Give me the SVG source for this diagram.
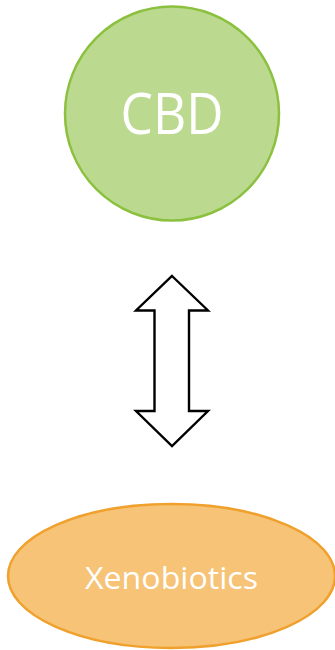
<svg xmlns="http://www.w3.org/2000/svg" width="335" height="650" viewBox="0 0 335 650">
<style>
.lbl{fill:#ffffff;font-family:"Open Sans","Liberation Sans",sans-serif;text-anchor:middle}
</style>
<rect width="335" height="650" fill="#ffffff"/>
<g id="cbd">
<circle cx="172" cy="113.5" r="107" fill="#BBDA90" stroke="#8CC03F" stroke-width="2.5"/>
<text class="lbl" x="172" y="134" font-size="56" textLength="103" lengthAdjust="spacingAndGlyphs">CBD</text>
</g>
<g id="connectors">
<polygon points="172,276 208,310.5 189,310.5 189,411 208,411 172,446 136,411 154.5,411 154.5,310.5 136,310.5" fill="#ffffff" stroke="#000000" stroke-width="2.4" stroke-linejoin="miter"/>
</g>
<g id="xenobiotics">
<ellipse cx="171.5" cy="576" rx="163.5" ry="72" fill="#F6C377" stroke="#F0A02C" stroke-width="2.5"/>
<text class="lbl" x="171.5" y="588.5" font-size="31" textLength="173" lengthAdjust="spacingAndGlyphs">Xenobiotics</text>
</g>
</svg>
